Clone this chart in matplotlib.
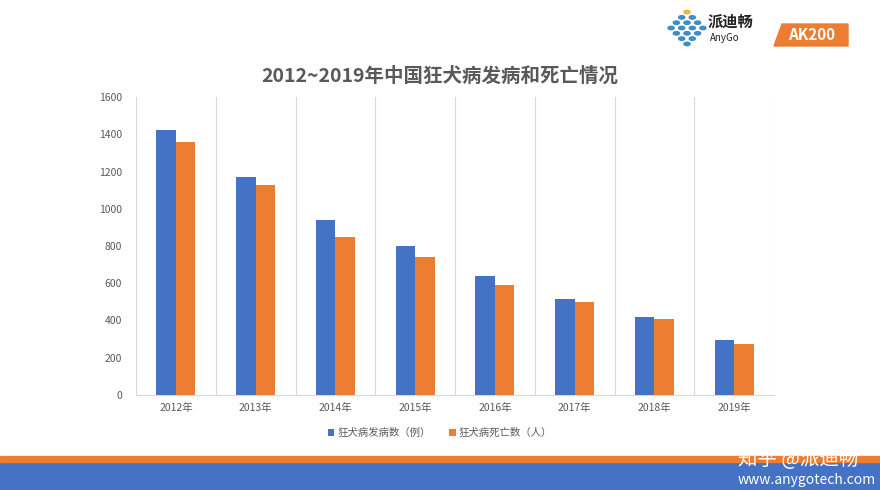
import matplotlib
matplotlib.use("Agg")
import matplotlib.pyplot as plt
import numpy as np
from matplotlib.patches import Rectangle, Polygon

plt.rcParams['font.family'] = ['Noto Sans CJK SC', 'DejaVu Sans']

years = ['2012年', '2013年', '2014年', '2015年', '2016年', '2017年', '2018年', '2019年']
cases = [1425, 1172, 940, 801, 640, 516, 420, 294]
deaths = [1361, 1128, 850, 742, 590, 500, 409, 276]
series_names = ['狂犬病发病数（例）', '狂犬病死亡数（人）']
title = '2012~2019年中国狂犬病发病和死亡情况'

W, H = 880, 490
fig = plt.figure(figsize=(8.8, 4.9), dpi=100)

def fx(px):
    return px / W

def fy(py):
    return 1 - py / H

blue = '#4472C4'
orange = '#ED7D31'
gray = '#595959'

ax = fig.add_axes([fx(136), fy(395), fx(774) - fx(136), fy(97) - fy(395)])
x = np.arange(len(years))
bw = 0.245
ax.bar(x - bw / 2, cases, bw, color=blue, label=series_names[0], zorder=3)
ax.bar(x + bw / 2, deaths, bw, color=orange, label=series_names[1], zorder=3)
ax.set_xlim(-0.5, len(years) - 0.5)
ax.set_ylim(0, 1600)
ax.set_yticks(range(0, 1601, 200))
ax.set_xticks(x)
ax.set_xticklabels(years)
for b in np.arange(-0.5, len(years), 1.0):
    ax.axvline(b, color='#D9D9D9', lw=0.8, zorder=1)
for s in ['top', 'right', 'left']:
    ax.spines[s].set_visible(False)
ax.spines['bottom'].set_color('#D9D9D9')
ax.tick_params(axis='both', length=0, labelsize=7.5, colors=gray, pad=6)
ax.tick_params(axis='y', pad=10)

fig.text(0.5, fy(76), title, ha='center', va='center', fontsize=14,
         fontweight='bold', color=gray)

leg = fig.legend(loc='center', bbox_to_anchor=(fx(440), fy(433)), ncol=2,
                 frameon=False, fontsize=7.5, handlelength=0.6, handleheight=0.6,
                 handletextpad=0.3, columnspacing=1.8, labelcolor=gray)

# bottom bands
fig.patches.append(Rectangle((0, 0), 1, fy(462), transform=fig.transFigure,
                             color='#4472C4', zorder=0))
fig.patches.append(Rectangle((0, fy(462)), 1, fy(456) - fy(462),
                             transform=fig.transFigure, color='#ED7D31', zorder=0))
fig.text(fx(858), fy(459), '知乎 @派迪畅', ha='right', va='center', fontsize=14,
         color='white')
fig.text(fx(876), fy(480), 'www.anygotech.com', ha='right', va='center',
         fontsize=10, color='white')

# logo dots
cx, cy = 687, 28
ang = np.deg2rad(45)
for i in range(4):
    for j in range(4):
        u = (i - 1.5) * 7.5
        v = (j - 1.5) * 7.5
        px = cx + u * np.cos(ang) - v * np.sin(ang)
        py = cy + u * np.sin(ang) + v * np.cos(ang)
        c = '#F2B233' if (i == 0 and j == 0) else '#3E8CC8'
        fig.patches.append(plt.Circle((fx(px), fy(py)), 0.0035,
                                      transform=fig.transFigure, color=c))
fig.text(fx(708), fy(22), '派迪畅', ha='left', va='center', fontsize=11,
         fontweight='bold', color='#222222')
fig.text(fx(710), fy(38), 'AnyGo', ha='left', va='center', fontsize=7,
         style='italic', color='#222222')
fig.patches.append(Polygon([(fx(774), fy(46)), (fx(782), fy(24)),
                            (fx(848), fy(24)), (fx(848), fy(46))],
                           closed=True, transform=fig.transFigure,
                           color='#ED7D31'))
fig.text(fx(812), fy(35), 'AK200', ha='center', va='center', fontsize=11,
         fontweight='bold', color='white')

fig.savefig('out.png', dpi=100)
